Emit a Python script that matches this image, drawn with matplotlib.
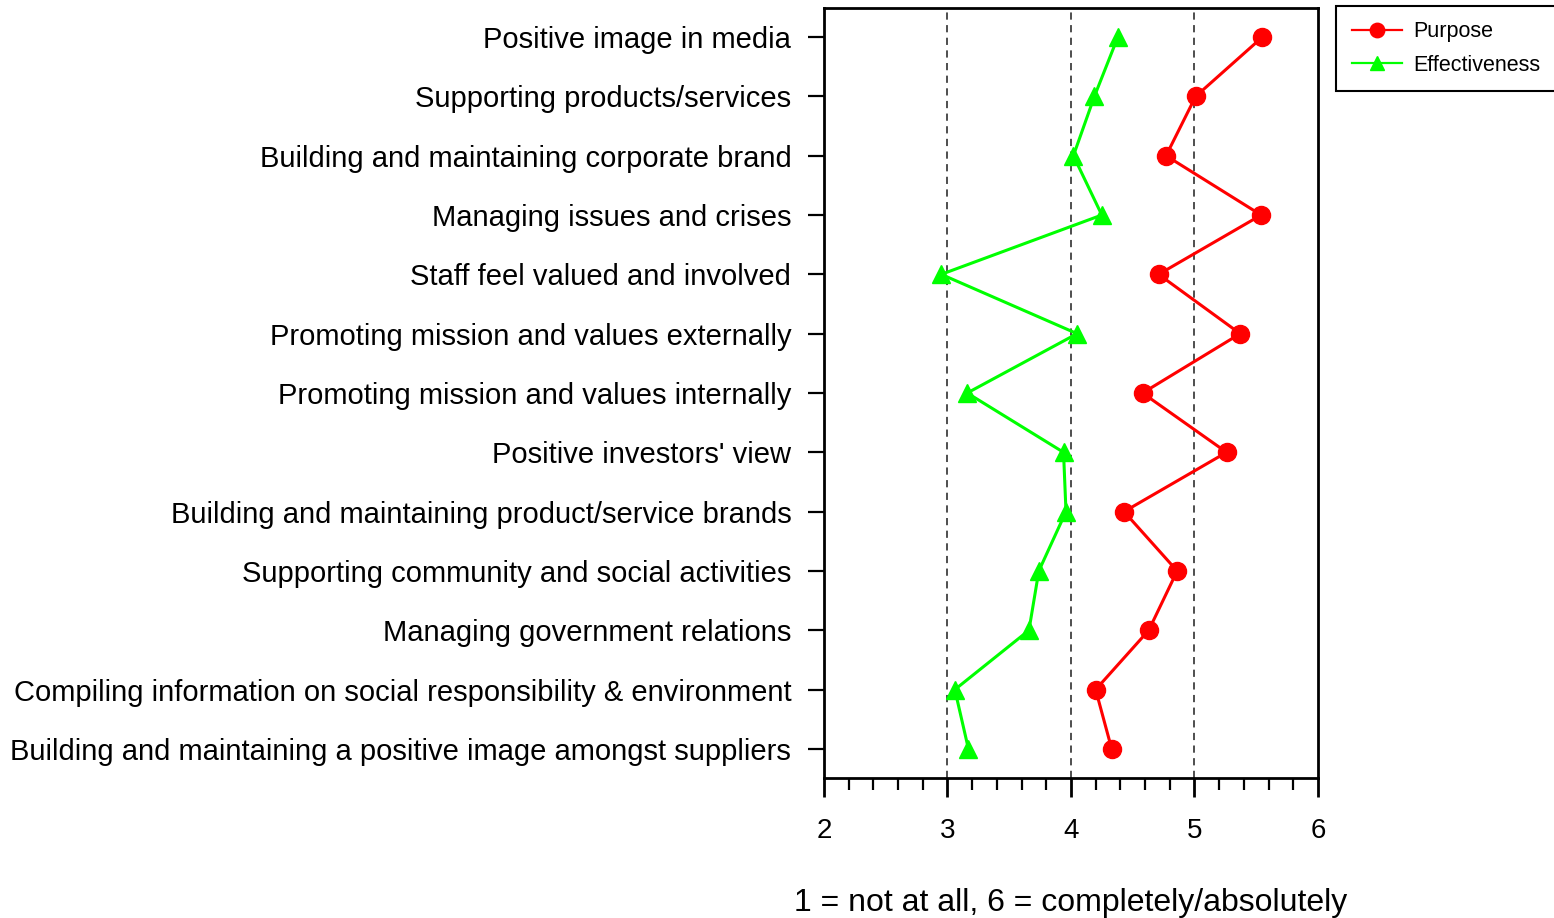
import matplotlib
matplotlib.use("Agg")
import matplotlib.pyplot as plt
from matplotlib.ticker import MultipleLocator

categories = [
    "Positive image in media",
    "Supporting products/services",
    "Building and maintaining corporate brand",
    "Managing issues and crises",
    "Staff feel valued and involved",
    "Promoting mission and values externally",
    "Promoting mission and values internally",
    "Positive investors' view",
    "Building and maintaining product/service brands",
    "Supporting community and social activities",
    "Managing government relations",
    "Compiling information on social responsibility & environment",
    "Building and maintaining a positive image amongst suppliers",
]
purpose = [5.55, 5.01, 4.77, 5.54, 4.71, 5.37, 4.58, 5.26, 4.43, 4.86, 4.63, 4.20, 4.33]
effectiveness = [4.38, 4.19, 4.02, 4.25, 2.95, 4.05, 3.16, 3.94, 3.96, 3.74, 3.66, 3.06, 3.17]
x_ticks = [2, 3, 4, 5, 6]
x_label = "1 = not at all, 6 = completely/absolutely"

fam = ['Liberation Sans', 'DejaVu Sans']
plt.rcParams['font.family'] = fam

fig = plt.figure(figsize=(15.54, 9.18), dpi=100)
ax = fig.add_axes([0.5302, 0.1525, 0.3179, 0.8388])

ypos = list(range(len(categories)))
for xv in [3, 4, 5]:
    ax.axvline(xv, color='#404040', linestyle=(0, (4, 3)), linewidth=1.3, zorder=1)

ax.plot(purpose, ypos, color='#FF0000', linewidth=2.2, marker='o', markersize=13,
        label='Purpose', zorder=3)
ax.plot(effectiveness, ypos, color='#00FF00', linewidth=2.2, marker='^', markersize=13,
        label='Effectiveness', zorder=3)

ax.set_xlim(2, 6)
ax.set_ylim(len(categories) - 1 + 0.49, -0.49)
ax.set_xticks(x_ticks)
ax.xaxis.set_minor_locator(MultipleLocator(0.2))
ax.set_yticks(ypos)
ax.set_yticklabels(categories, fontsize=21)
ax.tick_params(axis='y', which='major', direction='out', length=11.5, width=1.6, pad=12)
ax.tick_params(axis='x', which='major', direction='out', length=13.5, width=2, pad=15, labelsize=20)
ax.tick_params(axis='x', which='minor', direction='out', length=8.5, width=1.6)
for s in ax.spines.values():
    s.set_linewidth(2)

fig.text(0.6891, (918 - 911) / 918, x_label, fontsize=23, ha='center', va='baseline')

leg = fig.legend(loc='upper left', bbox_to_anchor=(1336 / 1554, 1 - 6 / 918),
                 frameon=True, fancybox=False, edgecolor='black', framealpha=1,
                 markerscale=0.8, handlelength=2.33, handletextpad=0.56,
                 borderpad=0.72, labelspacing=0.56, borderaxespad=0,
                 prop={'size': 15.5})
leg.get_frame().set_linewidth(1.5)
for h in leg.get_lines():
    h.set_linewidth(1.6)

fig.savefig("out.png", dpi=100)
